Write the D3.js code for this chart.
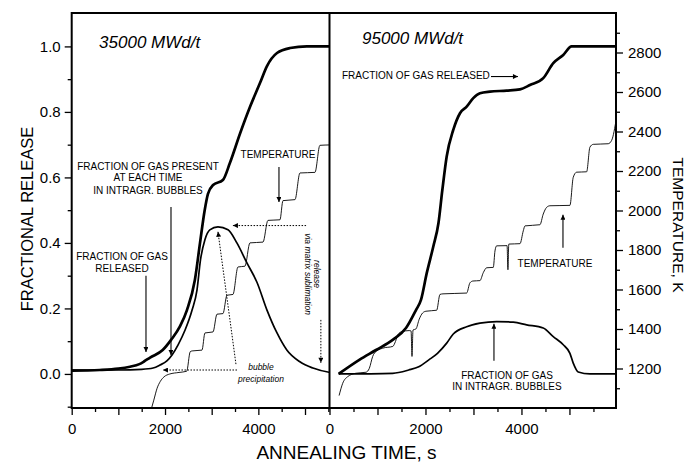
<!DOCTYPE html>
<html>
<head>
<meta charset="utf-8">
<script src="https://cdnjs.cloudflare.com/ajax/libs/d3/7.8.5/d3.min.js"></script>
<style>
	body { margin: 0; background: #fff; }
	svg { display: block; font-family: 'Liberation Sans', Arial, sans-serif; }
</style>
</head>
<body>
<svg id="chart"></svg>
<script>
// ========== DATA ==========
// [annealing time (s), fractional release] - 35000 MWd/t
var released35 = [[0,0.01],[600,0.012],[1000,0.016],[1250,0.022],[1450,0.03],[1550,0.038],[1680,0.05],
	[1950,0.073],[2130,0.104],[2320,0.145],[2470,0.195],[2640,0.287],[2750,0.4],[2850,0.5],[2920,0.55],
	[3030,0.577],[3240,0.592],[3390,0.644],[3610,0.735],[3820,0.815],[4035,0.888],[4185,0.94],
	[4400,0.98],[4680,0.995],[5040,1.0],[5540,1.0]];
var bubbles35 = [[0,0.012],[1000,0.012],[1500,0.014],[1745,0.018],[1890,0.027],[2040,0.04],[2150,0.058],
	[2280,0.089],[2430,0.134],[2580,0.195],[2685,0.256],[2760,0.348],[2855,0.41],[2960,0.44],[3135,0.449],
	[3350,0.44],[3540,0.4],[3755,0.339],[3970,0.28],[4185,0.195],[4400,0.125],[4610,0.073],
	[4890,0.037],[5170,0.018],[5490,0.006],[5540,0.005]];
// [annealing time (s), temperature (K)]
var temp35 = [[1700,990],[1760,1040],[1830,1100],[1900,1135],[1980,1158],[2100,1172],[2300,1180],
	[2464,1186],[2540,1285],[2580,1289],[2792,1293],[2856,1380],[3028,1385],[3114,1475],[3242,1478],
	[3328,1571],[3456,1575],[3563,1714],[3713,1718],[3820,1836],[4100,1840],[4206,1950],[4463,1953],
	[4528,2050],[4785,2055],[4892,2190],[5213,2193],[5320,2330],[5540,2332]];

// 95000 MWd/t
var released95 = [[190,0.0],[621,0.043],[969,0.073],[1317,0.104],[1594,0.14],[1802,0.195],[1906,0.226],
	[2025,0.307],[2163,0.389],[2270,0.46],[2350,0.56],[2442,0.664],[2579,0.745],[2719,0.796],
	[2858,0.816],[2996,0.842],[3135,0.857],[3344,0.862],[3692,0.865],[3969,0.869],[4177,0.882],
	[4454,0.903],[4663,0.949],[4871,0.974],[5046,1.0],[5980,1.0]];
var bubbles95 = [[190,0.0],[1317,0.002],[1650,0.012],[1860,0.022],[2070,0.043],[2250,0.063],[2442,0.094],
	[2579,0.122],[2858,0.144],[3135,0.155],[3483,0.16],[3829,0.158],[4108,0.15],[4454,0.14],
	[4663,0.114],[4871,0.089],[5010,0.063],[5079,0.033],[5183,0.006],[5427,0.0],[5980,0.0]];
var temp95 = [[200,1063],[275,1125],[380,1159],[550,1176],[760,1181],[830,1201],[900,1261],[935,1278],
	[1110,1303],[1320,1312],[1375,1337],[1425,1371],[1500,1386],[1660,1392],[1700,1390],[1719,1261],
	[1740,1395],[1800,1400],[1870,1450],[1940,1481],[2010,1490],[2233,1495],[2302,1575],[2365,1578],
	[2858,1582],[2927,1634],[2990,1643],[3135,1645],[3204,1685],[3275,1710],[3413,1712],[3448,1795],
	[3483,1821],[3700,1822],[3718,1700],[3736,1830],[3969,1832],[4038,1897],[4073,1922],[4385,1928],
	[4454,1982],[4525,2016],[4594,2024],[5010,2026],[5079,2168],[5150,2194],[5358,2196],[5427,2321],
	[5496,2335],[5808,2338],[5879,2355],[5980,2470]];

// ticks
var fracTicks = [0, 0.2, 0.4, 0.6, 0.8, 1.0];
var fracMinor = [-0.1, 0.1, 0.3, 0.5, 0.7, 0.9];
var tempTicks = [1200, 1400, 1600, 1800, 2000, 2200, 2400, 2600, 2800];
var tempMinor = [1100, 1300, 1500, 1700, 1900, 2100, 2300, 2500, 2700, 2900];
var timeTicks = [0, 1000, 2000, 3000, 4000, 5000];
var timeMinor = [500, 1500, 2500, 3500, 4500, 5500];
var timeLabels = [0, 2000, 4000];

// annotations in data units: [time, fraction]
var notes35 = [
	{ t: 587, f: 0.995, text: '35000 MWd/t', cls: 'title' },
	{ t: 1635, f: 0.624, text: 'FRACTION OF GAS PRESENT', cls: 'note' },
	{ t: 1635, f: 0.588, text: 'AT EACH TIME', cls: 'note' },
	{ t: 1635, f: 0.548, text: 'IN INTRAGR. BUBBLES', cls: 'note' },
	{ t: 1078, f: 0.347, text: 'FRACTION OF GAS', cls: 'note' },
	{ t: 1078, f: 0.31, text: 'RELEASED', cls: 'note' },
	{ t: 4420, f: 0.658, text: 'TEMPERATURE', cls: 'note' },
	{ t: 4056, f: 0.012, text: 'bubble', cls: 'small' },
	{ t: 4056, f: -0.024, text: 'precipitation', cls: 'small' },
	{ t: 5203, f: 0.305, text: 'release', cls: 'vert' },
	{ t: 5000, f: 0.305, text: 'via matrix sublimation', cls: 'vert' }
];
var arrows35 = [
	{ from: [2128, 0.51], to: [2128, 0.058], dotted: false },
	{ from: [1592, 0.30], to: [1592, 0.067], dotted: false },
	{ from: [4442, 0.632], to: [4442, 0.525], dotted: false },
	{ from: [5023, 0.453], to: [3455, 0.453], dotted: true },
	{ from: [3542, 0.012], to: [1956, 0.012], dotted: true },
	{ from: [3520, 0.03], to: [3135, 0.434], dotted: true },
	{ from: [5340, 0.165], to: [5340, 0.034], dotted: true }
];
var notes95 = [
	{ t: 677, f: 1.008, text: '95000 MWd/t', cls: 'title' },
	{ t: 260, f: 0.899, text: 'FRACTION OF GAS RELEASED', cls: 'note start' },
	{ t: 4698, f: 0.325, text: 'TEMPERATURE', cls: 'note' },
	{ t: 3698, f: -0.014, text: 'FRACTION OF GAS', cls: 'note' },
	{ t: 3698, f: -0.05, text: 'IN INTRAGR. BUBBLES', cls: 'note' }
];
var arrows95 = [
	{ from: [3365, 0.908], to: [3927, 0.908], dotted: false },
	{ from: [4865, 0.385], to: [4865, 0.486], dotted: false },
	{ from: [3427, 0.04], to: [3427, 0.153], dotted: false }
];

// ========== LAYOUT ==========
var width = 688;
var height = 464;
var top_y = 13;
var bottom_y = 408;
var left_x = 71.7;
var mid_x = 329.5;
var right_x = 616;

var svg = d3.select('#chart')
	.attr('width', width)
	.attr('height', height);

var x35 = d3.scaleLinear().domain([0, 5525]).range([left_x, mid_x]);
var x95 = d3.scaleLinear().domain([0, 5970]).range([mid_x, right_x]);
var yF = d3.scaleLinear().domain([-0.104, 1.102]).range([bottom_y, top_y]);
var yT = d3.scaleLinear().domain([1000, 3000]).range([bottom_y, top_y]);

// arrow heads
var defs = svg.append('defs');
defs.append('marker')
	.attr('id', 'head')
	.attr('viewBox', '0 0 10 10')
	.attr('refX', 10).attr('refY', 5)
	.attr('markerUnits', 'userSpaceOnUse')
	.attr('markerWidth', 8).attr('markerHeight', 5)
	.attr('orient', 'auto')
	.append('path').attr('d', 'M0,0L10,5L0,10z').attr('fill', '#000');

// ========== AXES ==========
function styleAxis(g, size) {
	g.select('.domain').remove();
	g.selectAll('.tick line').attr('stroke', '#000').attr('stroke-width', 1.3);
	g.selectAll('.tick text').attr('fill', '#000').style('font-size', size + 'px');
}

svg.append('g')
	.attr('transform', 'translate(' + left_x + ',0)')
	.call(d3.axisLeft(yF).tickValues(fracTicks).tickSize(7).tickPadding(4).tickFormat(d3.format('.1f')))
	.call(styleAxis, 15);
svg.append('g')
	.attr('transform', 'translate(' + left_x + ',0)')
	.call(d3.axisLeft(yF).tickValues(fracMinor).tickSize(4).tickFormat(''))
	.call(styleAxis, 15);

svg.append('g')
	.attr('transform', 'translate(' + right_x + ',0)')
	.call(d3.axisRight(yT).tickValues(tempTicks).tickSize(7).tickPadding(5).tickFormat(d3.format('d')))
	.call(styleAxis, 15);
svg.append('g')
	.attr('transform', 'translate(' + right_x + ',0)')
	.call(d3.axisRight(yT).tickValues(tempMinor).tickSize(4).tickFormat(''))
	.call(styleAxis, 15);

[x35, x95].forEach(function(xs) {
	svg.append('g')
		.attr('transform', 'translate(0,' + bottom_y + ')')
		.call(d3.axisBottom(xs).tickValues(timeTicks).tickSize(7).tickPadding(8)
			.tickFormat(function(d) { return timeLabels.includes(d) ? d : ''; }))
		.call(styleAxis, 15);
	svg.append('g')
		.attr('transform', 'translate(0,' + bottom_y + ')')
		.call(d3.axisBottom(xs).tickValues(timeMinor).tickSize(4).tickFormat(''))
		.call(styleAxis, 15);
});

// axis titles
svg.append('text')
	.attr('text-anchor', 'middle')
	.attr('x', 346.5).attr('y', 459)
	.style('font-size', '19px')
	.text('ANNEALING TIME, s');
svg.append('text')
	.attr('text-anchor', 'middle')
	.attr('transform', 'translate(33,219)rotate(-90)')
	.style('font-size', '16.5px')
	.text('FRACTIONAL RELEASE');
svg.append('text')
	.attr('text-anchor', 'middle')
	.attr('transform', 'translate(673,225)rotate(90)')
	.style('font-size', '15.5px')
	.text('TEMPERATURE, K');

// ========== PANELS ==========
function drawPanel(xs, released, bubbles, temp, notes, arrows, id) {
	var g = svg.append('g');

	defs.append('clipPath').attr('id', id)
		.append('rect')
		.attr('x', xs.range()[0]).attr('y', top_y)
		.attr('width', xs.range()[1] - xs.range()[0])
		.attr('height', bottom_y - top_y);

	var lineF = d3.line()
		.x(function(d) { return xs(d[0]); })
		.y(function(d) { return yF(d[1]); })
		.curve(d3.curveMonotoneX);
	var lineT = d3.line()
		.x(function(d) { return xs(d[0]); })
		.y(function(d) { return yT(d[1]); })
		.curve(d3.curveMonotoneX);

	var curves = g.append('g').attr('clip-path', 'url(#' + id + ')');
	curves.append('path').datum(temp)
		.attr('d', lineT).attr('fill', 'none')
		.attr('stroke', '#000').attr('stroke-width', 0.9);
	curves.append('path').datum(bubbles)
		.attr('d', lineF).attr('fill', 'none')
		.attr('stroke', '#000').attr('stroke-width', 1.7);
	curves.append('path').datum(released)
		.attr('d', lineF).attr('fill', 'none')
		.attr('stroke', '#000').attr('stroke-width', 2.7);

	g.selectAll('.arrow')
		.data(arrows).enter().append('line')
			.attr('class', 'arrow')
			.attr('x1', function(d) { return xs(d.from[0]); })
			.attr('y1', function(d) { return yF(d.from[1]); })
			.attr('x2', function(d) { return xs(d.to[0]); })
			.attr('y2', function(d) { return yF(d.to[1]); })
			.attr('stroke', '#000')
			.attr('stroke-width', function(d) { return d.dotted ? 1 : 1.1; })
			.attr('stroke-dasharray', function(d) { return d.dotted ? '1.5,1.5' : null; })
			.attr('marker-end', 'url(#head)');

	g.selectAll('.note')
		.data(notes).enter().append('text')
			.attr('class', 'note')
			.attr('fill', '#000')
			.attr('text-anchor', function(d) {
				if (d.cls === 'title' || d.cls === 'note start') return 'start';
				return 'middle';
			})
			.attr('transform', function(d) {
				var t = 'translate(' + xs(d.t) + ',' + yF(d.f) + ')';
				return d.cls === 'vert' ? t + 'rotate(90)' : t;
			})
			.style('font-size', function(d) {
				if (d.cls === 'title') return '17px';
				if (d.cls === 'small' || d.cls === 'vert') return '8.5px';
				return '10px';
			})
			.style('font-style', function(d) {
				return (d.cls === 'note' || d.cls === 'note start') ? 'normal' : 'italic';
			})
			.text(function(d) { return d.text; });
}

drawPanel(x35, released35, bubbles35, temp35, notes35, arrows35, 'clip35');
drawPanel(x95, released95, bubbles95, temp95, notes95, arrows95, 'clip95');

// frame and divider
svg.append('rect')
	.attr('x', left_x).attr('y', top_y)
	.attr('width', right_x - left_x).attr('height', bottom_y - top_y)
	.attr('fill', 'none').attr('stroke', '#000').attr('stroke-width', 2);
svg.append('line')
	.attr('x1', mid_x).attr('x2', mid_x)
	.attr('y1', top_y).attr('y2', bottom_y)
	.attr('stroke', '#000').attr('stroke-width', 2);
</script>
</body>
</html>
